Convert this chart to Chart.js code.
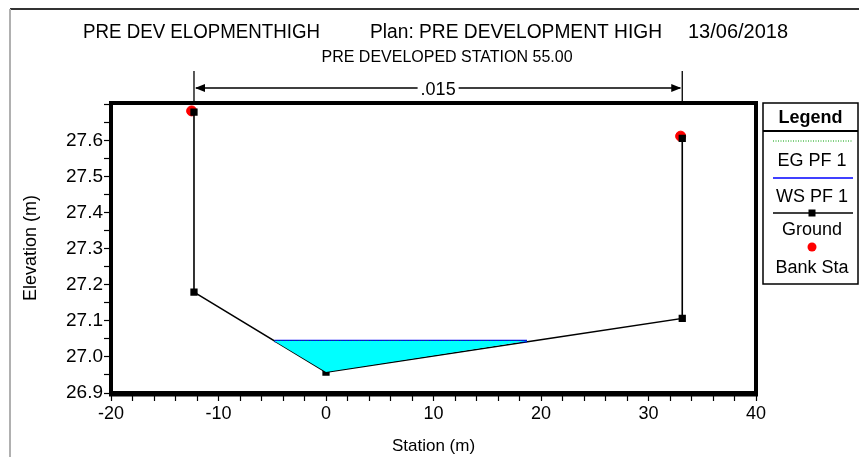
<!DOCTYPE html>
<html>
<head>
<meta charset="utf-8">
<script src="https://cdn.jsdelivr.net/npm/chart.js@4.4.1/dist/chart.umd.min.js"></script>
<style>
html,body{margin:0;padding:0;background:#fff;}
canvas{display:block;}
</style>
</head>
<body>
<canvas id="c" width="859" height="457"></canvas>
<script>
// ---- data ----
const groundStation = [-12.28, -12.28, 0, 33.14, 33.14];
const groundElev    = [27.680, 27.180, 26.958, 27.107, 27.607];
const bankStation   = [-12.5, 32.99];
const bankElev      = [27.683, 27.613];
const wsStation     = [-4.8, 18.7];
const wsElev        = [27.044, 27.044];
const egStation     = [-4.8, 18.7];
const egElev        = [27.045, 27.045];
const waterStation  = [-4.8, 0, 18.7];
const waterElev     = [27.044, 26.958, 27.044];
const manningN      = '.015';
const manningStations = [-12.28, 33.14];
const xTickLabels   = [-20, -10, 0, 10, 20, 30, 40];
const yTickLabels   = [26.9, 27.0, 27.1, 27.2, 27.3, 27.4, 27.5, 27.6];
const titleParts    = ['PRE DEV ELOPMENTHIGH', 'Plan: PRE DEVELOPMENT HIGH', '13/06/2018'];
const subTitle      = 'PRE DEVELOPED STATION 55.00';
const legendItems   = ['EG PF 1', 'WS PF 1', 'Ground', 'Bank Sta'];

const pts = (xs, ys) => xs.map((x, i) => ({x: x, y: ys[i]}));
const FONT = '"Liberation Sans", Arial, sans-serif';

const bgPlugin = {
  id: 'bg',
  beforeDraw(chart) {
    const ctx = chart.ctx;
    ctx.save();
    ctx.fillStyle = '#fff';
    ctx.fillRect(0, 0, chart.width, chart.height);
    ctx.restore();
  }
};

const decoPlugin = {
  id: 'deco',
  afterDraw(chart) {
    const ctx = chart.ctx;
    const a = chart.chartArea;
    const xs = chart.scales.x;
    ctx.save();
    // outer page border
    ctx.strokeStyle = '#333';
    ctx.lineWidth = 2;
    ctx.beginPath(); ctx.moveTo(10, 9); ctx.lineTo(859, 9); ctx.stroke();
    ctx.strokeStyle = '#b0b0b0';
    ctx.beginPath(); ctx.moveTo(10, 9); ctx.lineTo(10, 457); ctx.stroke();

    // plot frame
    ctx.strokeStyle = '#000';
    ctx.lineWidth = 4;
    ctx.strokeRect(a.left, a.top, a.right - a.left, a.bottom - a.top);
    ctx.lineWidth = 5;
    ctx.beginPath(); ctx.moveTo(a.left - 2, a.bottom + 1); ctx.lineTo(a.right + 2, a.bottom + 1); ctx.stroke();

    // titles
    ctx.fillStyle = '#000';
    ctx.textBaseline = 'middle';
    ctx.textAlign = 'left';
    ctx.font = '20px ' + FONT;
    ctx.fillText(titleParts[0], 83, 32, 237);
    ctx.fillText(titleParts[1], 370, 32, 292);
    ctx.fillText(titleParts[2], 688, 32, 105);
    ctx.textAlign = 'center';
    ctx.font = '16px ' + FONT;
    ctx.fillText(subTitle, 447, 58, 294);

    // Manning's n dimension line
    const x1 = xs.getPixelForValue(manningStations[0]);
    const x2 = xs.getPixelForValue(manningStations[1]);
    const yd = 88;
    ctx.lineWidth = 1.3;
    ctx.beginPath();
    ctx.moveTo(x1, 71); ctx.lineTo(x1, a.top);
    ctx.moveTo(x2, 71); ctx.lineTo(x2, a.top);
    ctx.moveTo(x1 + 2, yd); ctx.lineTo(x2 - 2, yd);
    ctx.stroke();
    ctx.beginPath();
    ctx.moveTo(x1 + 1, yd); ctx.lineTo(x1 + 11, yd - 4); ctx.lineTo(x1 + 11, yd + 4); ctx.closePath();
    ctx.moveTo(x2 - 1, yd); ctx.lineTo(x2 - 11, yd - 4); ctx.lineTo(x2 - 11, yd + 4); ctx.closePath();
    ctx.fill();
    ctx.font = '18px ' + FONT;
    const mid = (x1 + x2) / 2;
    const tw = ctx.measureText(manningN).width;
    ctx.fillStyle = '#fff';
    ctx.fillRect(mid - tw / 2 - 3, yd - 9, tw + 6, 19);
    ctx.fillStyle = '#000';
    ctx.fillText(manningN, mid, yd + 2);

    // legend box
    const ds = chart.data.datasets;
    const bx = 763, by = 103, bw = 95, bh = 181;
    ctx.lineWidth = 1.5;
    ctx.strokeStyle = '#000';
    ctx.strokeRect(bx, by, bw, bh);
    ctx.lineWidth = 2;
    ctx.beginPath(); ctx.moveTo(bx, 131); ctx.lineTo(bx + bw, 131); ctx.stroke();
    ctx.font = 'bold 18px ' + FONT;
    ctx.fillText('Legend', bx + bw / 2, 118);
    const lx1 = 773, lx2 = 853, cx = 812;
    // EG
    ctx.save();
    ctx.strokeStyle = ds[1].borderColor; ctx.lineWidth = 1; ctx.setLineDash([1, 1.5]);
    ctx.beginPath(); ctx.moveTo(lx1, 141); ctx.lineTo(lx2, 141); ctx.stroke();
    ctx.restore();
    ctx.font = '18px ' + FONT;
    ctx.fillText(legendItems[0], cx, 161);
    // WS
    ctx.strokeStyle = ds[2].borderColor; ctx.lineWidth = 1.5;
    ctx.beginPath(); ctx.moveTo(lx1, 178); ctx.lineTo(lx2, 178); ctx.stroke();
    ctx.fillText(legendItems[1], cx, 197);
    // Ground
    ctx.strokeStyle = ds[3].borderColor; ctx.lineWidth = 1.5;
    ctx.beginPath(); ctx.moveTo(lx1, 213); ctx.lineTo(lx2, 213); ctx.stroke();
    ctx.fillStyle = '#000';
    ctx.fillRect(cx - 3.5, 213 - 3.5, 7, 7);
    ctx.fillText(legendItems[2], cx, 230);
    // Bank Sta
    ctx.fillStyle = ds[4].backgroundColor;
    ctx.beginPath(); ctx.arc(cx, 247, 4.5, 0, Math.PI * 2); ctx.fill();
    ctx.fillStyle = '#000';
    ctx.fillText(legendItems[3], cx, 268);
    ctx.restore();
  }
};

const isMult = (v, step) => Math.abs(v / step - Math.round(v / step)) < 1e-6;
const inList = (v, list) => list.some(t => Math.abs(t - v) < 1e-6);

new Chart(document.getElementById('c'), {
  type: 'scatter',
  data: {
    datasets: [
      { label: 'water', data: pts(waterStation, waterElev), showLine: true,
        borderWidth: 0, borderColor: 'rgba(0,0,0,0)', pointRadius: 0,
        backgroundColor: '#00ffff', fill: {target: {value: wsElev[0]}} },
      { label: legendItems[0], data: pts(egStation, egElev), showLine: true,
        borderColor: '#00a000', borderWidth: 1, borderDash: [1, 2], pointRadius: 0, fill: false },
      { label: legendItems[1], data: pts(wsStation, wsElev), showLine: true,
        borderColor: '#0000ff', borderWidth: 2.5, pointRadius: 0, fill: false },
      { label: legendItems[2], data: pts(groundStation, groundElev), showLine: true,
        borderColor: '#000', borderWidth: 1.6, pointStyle: 'rect', pointRadius: 4,
        pointBackgroundColor: '#000', pointBorderColor: '#000', fill: false },
      { label: legendItems[3], data: pts(bankStation, bankElev), showLine: false,
        backgroundColor: '#ff0000', pointBackgroundColor: '#ff0000', pointBorderColor: '#ff0000',
        pointRadius: 5, pointStyle: 'circle' }
    ]
  },
  options: {
    responsive: false,
    animation: false,
    clip: false,
    layout: { padding: { top: 103, right: 103, bottom: 0, left: 0 } },
    plugins: { legend: { display: false }, tooltip: { enabled: false }, title: { display: false } },
    scales: {
      x: {
        type: 'linear', min: xTickLabels[0], max: xTickLabels[xTickLabels.length - 1],
        afterFit(s) { s.height = 64; },
        ticks: { stepSize: 2, autoSkip: false, maxRotation: 0, color: '#000', padding: 2,
                 font: { size: 18, family: FONT },
                 callback: (v) => inList(v, xTickLabels) ? String(Math.round(v)) : '' },
        grid: { drawOnChartArea: false, drawTicks: true, tickLength: 8, color: '#000', tickWidth: 1.2 },
        border: { display: false },
        title: { display: true, text: 'Station (m)', color: '#000', font: { size: 17, family: FONT }, padding: { top: 0, bottom: 0 } }
      },
      y: {
        type: 'linear', min: yTickLabels[0], max: 27.705,
        afterFit(s) { s.width = 111; },
        ticks: { stepSize: 0.05, autoSkip: false, includeBounds: false, color: '#000', padding: 1,
                 font: { size: 19, family: FONT },
                 callback: (v) => inList(v, yTickLabels) ? Number(v).toFixed(1) : '' },
        grid: { drawOnChartArea: false, drawTicks: true, tickLength: 7, color: '#000', tickWidth: 1.2 },
        border: { display: false },
        title: { display: true, text: 'Elevation (m)', color: '#000', font: { size: 18, family: FONT }, padding: { top: 20, bottom: 0 } }
      }
    }
  },
  plugins: [bgPlugin, decoPlugin]
});
</script>
</body>
</html>
